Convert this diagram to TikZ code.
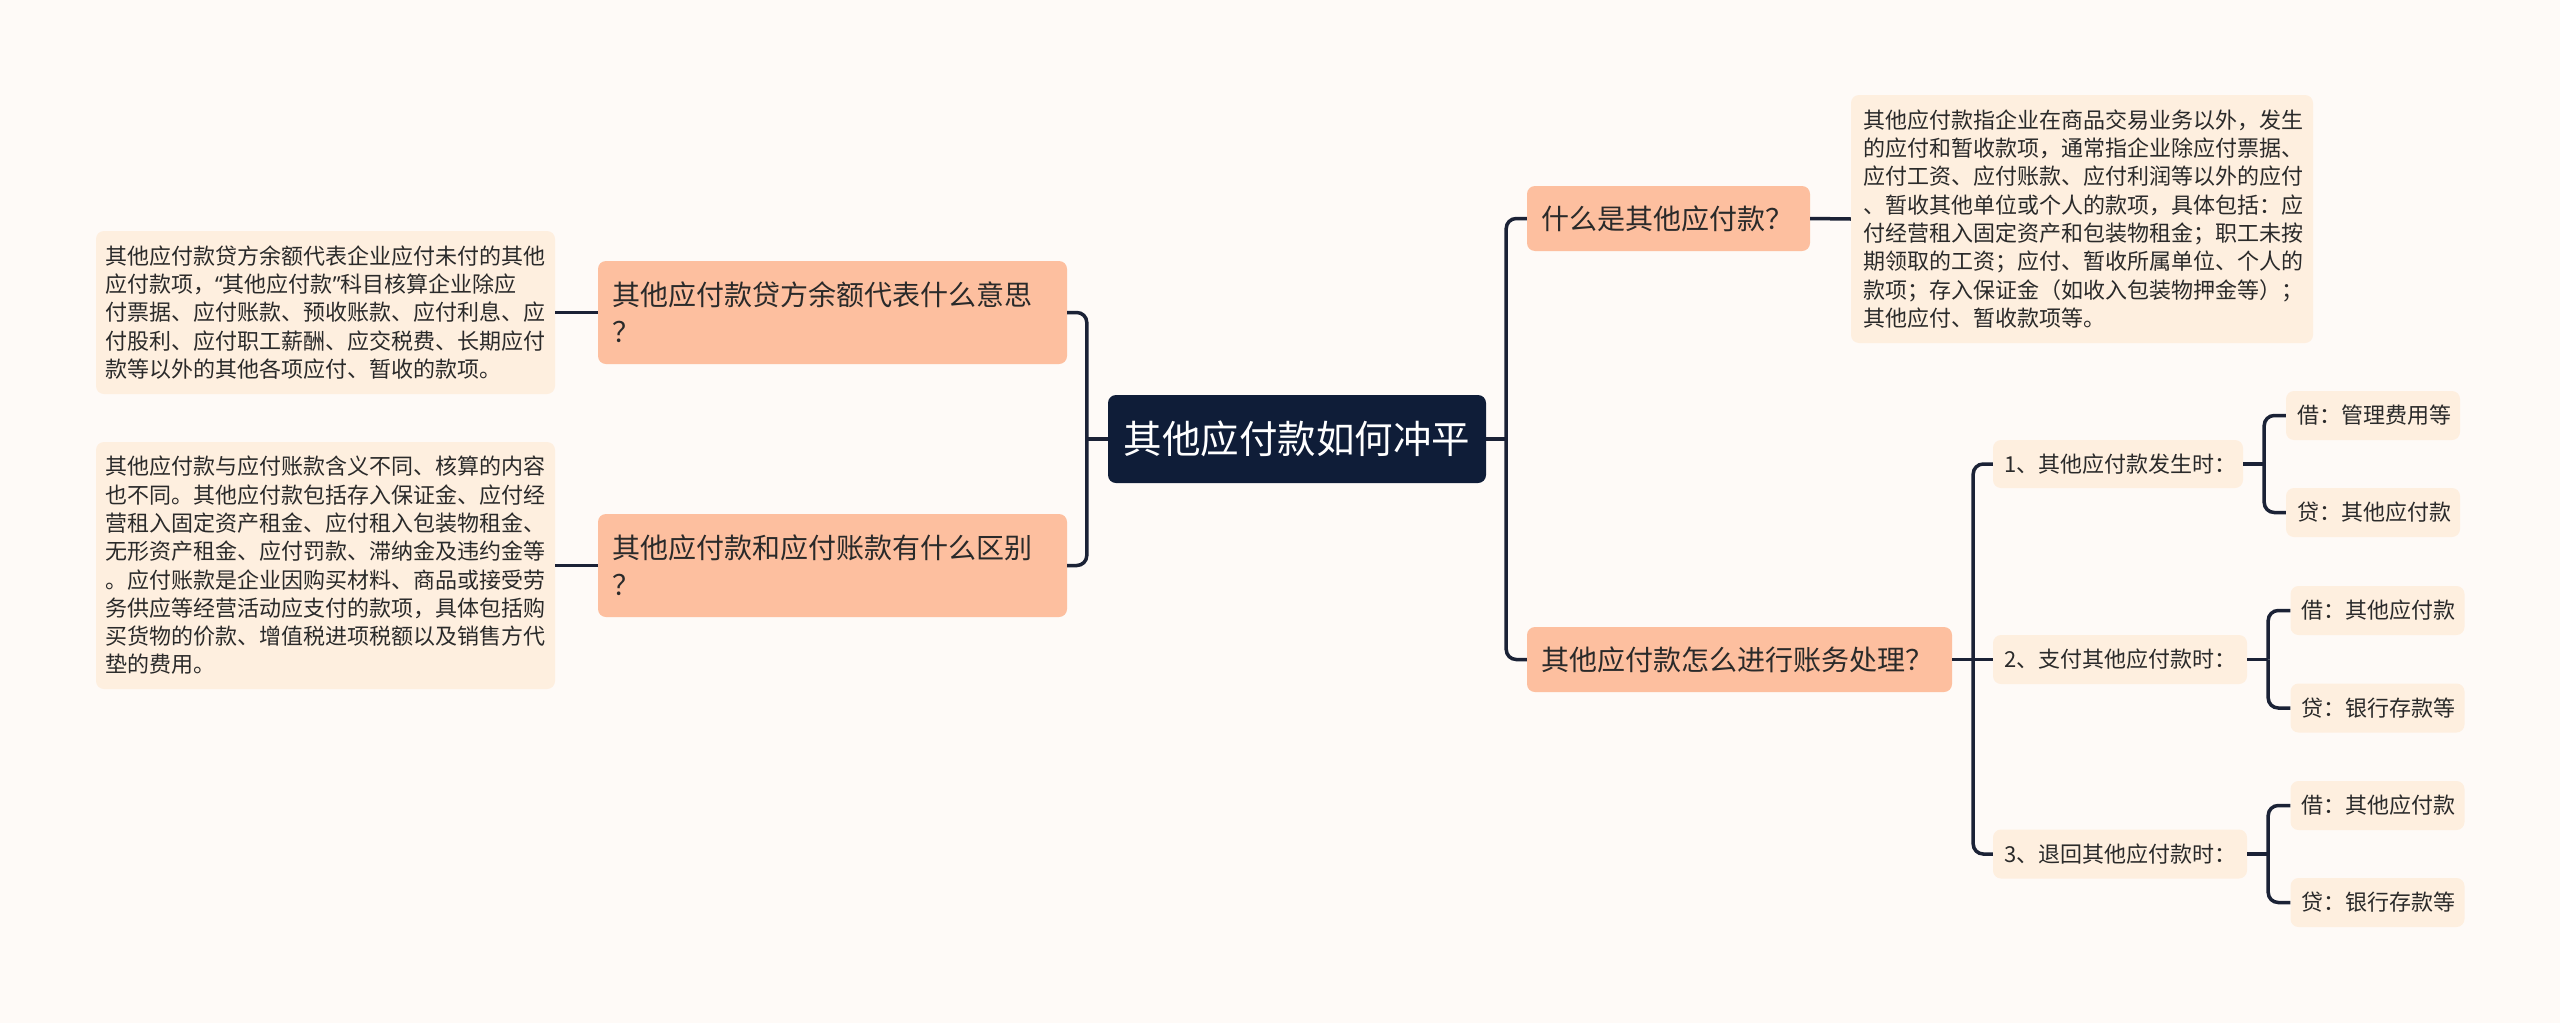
\documentclass[tikz,border=0pt]{standalone}
\usepackage{fontspec}
\setmainfont{Noto Sans CJK SC}
\newfontfamily\latinq{Noto Sans}
\definecolor{bg}{HTML}{FEFAF7}
\definecolor{navy}{HTML}{0F1D38}
\definecolor{salmon}{HTML}{FDBF9F}
\definecolor{cream}{HTML}{FEEFDF}
\definecolor{txt}{HTML}{2A2A2A}
\definecolor{linec}{HTML}{1B2236}
\tikzset{
  ctr/.style={fill=navy, text=white, rounded corners=8pt, inner sep=0pt,
    minimum width=378pt, minimum height=88pt, font=\fontsize{38.5}{46}\selectfont},
  topic/.style={fill=salmon, text=txt, rounded corners=8pt, inner xsep=14pt, inner ysep=0pt,
    align=left, font=\fontsize{28}{37}\selectfont},
  note/.style={fill=cream, text=txt, rounded corners=8pt, inner xsep=9pt, inner ysep=0pt,
    align=left, font=\fontsize{22}{28.3}\selectfont},
  leaf/.style={fill=cream, text=txt, rounded corners=8pt, inner xsep=11pt, inner ysep=0pt,
    align=left, font=\fontsize{22}{28}\selectfont},
  conn/.style={draw=linec, line width=3.5pt, rounded corners=10pt},
}
\begin{document}
\begin{tikzpicture}[x=1pt,y=-1pt]
\useasboundingbox (0,0) rectangle (2560,1023);
\fill[bg] (0,0) rectangle (2560,1023);

% center
\node[ctr] (C) at (1297,439) {其他应付款如何冲平};

% left side
\node[topic, text width=441pt, minimum height=103pt] (L1) at (832.5,312.5)
  {其他应付款贷方余额代表什么意思\\？};
\node[topic, text width=441pt, minimum height=103pt] (L2) at (832.5,565.5)
  {其他应付款和应付账款有什么区别\\？};
\node[note, text width=441pt, minimum height=163pt] (D1) at (325.5,312.5)
  {其他应付款贷方余额代表企业应付未付的其他\\
   应付款项，{\latinq “}其他应付款{\latinq ”}科目核算企业除应\\
   付票据、应付账款、预收账款、应付利息、应\\
   付股利、应付职工薪酬、应交税费、长期应付\\
   款等以外的其他各项应付、暂收的款项。};
\node[note, text width=441pt, minimum height=247pt] (D2) at (325.5,565.5)
  {其他应付款与应付账款含义不同、核算的内容\\
   也不同。其他应付款包括存入保证金、应付经\\
   营租入固定资产租金、应付租入包装物租金、\\
   无形资产租金、应付罚款、滞纳金及违约金等\\
   。应付账款是企业因购买材料、商品或接受劳\\
   务供应等经营活动应支付的款项，具体包括购\\
   买货物的价款、增值税进项税额以及销售方代\\
   垫的费用。};

% right side
\node[topic, text width=255pt, minimum height=65pt] (R1) at (1668.5,218.5)
  {什么是其他应付款？};
\node[note, text width=438pt, inner xsep=12pt, minimum height=248pt] (RD) at (2082,219)
  {其他应付款指企业在商品交易业务以外，发生\\
   的应付和暂收款项，通常指企业除应付票据、\\
   应付工资、应付账款、应付利润等以外的应付\\
   、暂收其他单位或个人的款项，具体包括：应\\
   付经营租入固定资产和包装物租金；职工未按\\
   期领取的工资；应付、暂收所属单位、个人的\\
   款项；存入保证金（如收入包装物押金等）；\\
   其他应付、暂收款项等。};
\node[topic, text width=397pt, minimum height=65pt] (R2) at (1739.5,659.5)
  {其他应付款怎么进行账务处理？};

\node[leaf, text width=228pt, minimum height=48pt] (K1) at (2118,464) {1、其他应付款发生时：};
\node[leaf, text width=232pt, minimum height=49pt] (K2) at (2120,659.5) {2、支付其他应付款时：};
\node[leaf, text width=232pt, minimum height=49pt] (K3) at (2120,854) {3、退回其他应付款时：};

\node[leaf, text width=152pt, minimum height=49pt] (G11) at (2373,415.5) {借：管理费用等};
\node[leaf, text width=152pt, minimum height=49pt] (G12) at (2373,512.5) {贷：其他应付款};
\node[leaf, text width=152pt, minimum height=49pt] (G21) at (2377.5,610.5) {借：其他应付款};
\node[leaf, text width=152pt, minimum height=49pt] (G22) at (2377.5,708) {贷：银行存款等};
\node[leaf, text width=152pt, minimum height=49pt] (G31) at (2377.5,805.5) {借：其他应付款};
\node[leaf, text width=152pt, minimum height=49pt] (G32) at (2377.5,902.5) {贷：银行存款等};

% connectors
\path (C.east) ++(20,0) coordinate (rt);
\path (C.west) ++(-21,0) coordinate (lt);
\draw[conn] (C.east) -- (rt);
\draw[conn] (rt) |- (R1.west);
\draw[conn] (rt) |- (R2.west);
\draw[conn] (C.west) -- (lt);
\draw[conn] (lt) |- (L1.east);
\draw[conn] (lt) |- (L2.east);

\draw[conn] (D1.east) -- (L1.west);
\draw[conn] (D2.east) -- (L2.west);
\draw[conn] (R1.east) -- (RD.west);

\path (R2.east) ++(21,0) coordinate (r2t);
\draw[conn] (R2.east) -- (r2t);
\draw[conn] (r2t) |- (K1.west);
\draw[conn] (r2t) -- (K2.west);
\draw[conn] (r2t) |- (K3.west);

\path (K1.east) ++(21,0) coordinate (k1t);
\draw[conn] (K1.east) -- (k1t);
\draw[conn] (k1t) |- (G11.west);
\draw[conn] (k1t) |- (G12.west);

\path (K2.east) ++(21,0) coordinate (k2t);
\draw[conn] (K2.east) -- (k2t);
\draw[conn] (k2t) |- (G21.west);
\draw[conn] (k2t) |- (G22.west);

\path (K3.east) ++(21,0) coordinate (k3t);
\draw[conn] (K3.east) -- (k3t);
\draw[conn] (k3t) |- (G31.west);
\draw[conn] (k3t) |- (G32.west);
\end{tikzpicture}
\end{document}
